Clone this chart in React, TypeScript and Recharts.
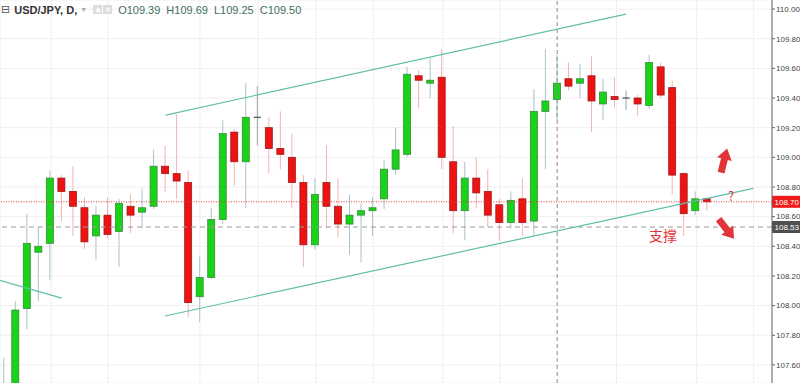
import {
  Bar,
  CartesianGrid,
  ComposedChart,
  ReferenceDot,
  ReferenceLine,
  XAxis,
  YAxis,
} from "recharts";

// daily candles, index 0 is the one cut off at the left edge
const opens = [
  107.3, 107.4, 107.98, 108.36, 108.42, 108.86, 108.77, 108.66, 108.47, 108.61,
  108.5, 108.67, 108.63, 108.67, 108.94, 108.89, 108.83, 108.06, 108.19, 108.58,
  109.17, 108.97, 109.27, 109.2, 109.06, 109.0, 108.83, 108.41, 108.83, 108.67,
  108.55, 108.61, 108.64, 108.72, 108.92, 109.02, 109.55, 109.5, 109.54, 108.97,
  108.64, 108.86, 108.77, 108.68, 108.56, 108.72, 108.57, 109.31, 109.39, 109.53,
  109.5, 109.55, 109.36, 109.41, 109.4, 109.4, 109.35, 109.61, 109.47, 108.89,
  108.64, 108.72,
];
const highs = [
  107.65, 108.03, 108.62, 108.53, 108.91, 108.88, 108.94, 108.73, 108.67, 108.73,
  108.72, 108.75, 108.79, 109.05, 109.08, 109.29, 108.91, 108.33, 108.66, 109.25,
  109.19, 109.5, 109.48, 109.27, 109.31, 109.16, 108.88, 108.86, 109.08, 108.86,
  108.75, 108.69, 108.73, 108.98, 109.2, 109.61, 109.59, 109.67, 109.73, 109.21,
  108.97, 109.0, 108.92, 108.72, 108.77, 108.86, 109.46, 109.73, 109.69, 109.64,
  109.63, 109.68, 109.53, 109.54, 109.45, 109.42, 109.69, 109.64, 109.52, 108.9,
  108.77, 108.73,
];
const lows = [
  107.1, 107.3, 107.84, 108.03, 108.17, 108.57, 108.47, 108.38, 108.31, 108.45,
  108.26, 108.49, 108.52, 108.65, 108.77, 108.72, 107.92, 107.89, 108.18, 108.55,
  108.81, 108.66, 109.08, 108.89, 108.92, 108.66, 108.26, 108.38, 108.52, 108.46,
  108.34, 108.29, 108.47, 108.65, 108.88, 109.0, 109.33, 109.4, 108.92, 108.49,
  108.44, 108.66, 108.53, 108.44, 108.52, 108.47, 108.47, 108.92, 109.25, 109.45,
  109.4, 109.17, 109.25, 109.33, 109.32, 109.28, 109.33, 109.4, 108.75, 108.47,
  108.61, 108.64,
];
const closes = [
  107.42, 107.97, 108.42, 108.4, 108.86, 108.77, 108.67, 108.43, 108.61, 108.48,
  108.69, 108.61, 108.66, 108.94, 108.89, 108.84, 108.02, 108.19, 108.58, 109.16,
  108.97, 109.27, 109.27, 109.06, 109.02, 108.83, 108.41, 108.75, 108.67, 108.55,
  108.61, 108.64, 108.66, 108.92, 109.05, 109.56, 109.52, 109.52, 109.0, 108.64,
  108.86, 108.76, 108.61, 108.56, 108.71, 108.56, 109.31, 109.38, 109.5, 109.48,
  109.53, 109.38, 109.44, 109.39, 109.4, 109.36, 109.64, 109.42, 108.88, 108.62,
  108.72, 108.7,
];

const priceTicks = [
  107.6, 107.8, 108.0, 108.2, 108.4, 108.6, 108.8, 109.0, 109.2, 109.4, 109.6,
  109.8, 110.0,
];
// vertical grid lines (session boundaries), in candle index units
const dayGrid = [4.1, 9.05, 17, 22.05, 27.05, 32.05, 38.1, 43.05, 53.15, 60.1, 65.05];

const lastPrice = 108.7;
const supportPrice = 108.53;
const hoveredDay = 48;

// hand-drawn trend lines: [index, price] endpoints
const channelTop: [number, number][] = [[14.03, 109.285], [53.97, 109.966]];
const channelBottom: [number, number][] = [[13.97, 107.93], [65.02, 108.79]];
const oldTrend: [number, number][] = [[-1, 108.185], [5.0, 108.05]];

const upArrowAt: [number, number] = [62.47, 108.975];
const downArrowAt: [number, number] = [62.65, 108.52];
const questionAt: [number, number] = [63.08, 108.745];
const supportLabelAt: [number, number] = [57.18, 108.476];

const candles = opens.map((open, i) => ({
  idx: i,
  open,
  high: highs[i],
  low: lows[i],
  close: closes[i],
  range: [lows[i], highs[i]],
}));

const UP = "#18d318";
const UP_EDGE = "#3a8a3a";
const DOWN = "#ef1212";
const DOWN_EDGE = "#9a1b1b";
const TEAL = "#5fbfa7";
const RED_MARK = "#e2353a";

function Candle(props: any) {
  const { x, y, width, height, payload } = props;
  const { open, close, high, low } = payload;
  const cx = x + width / 2;
  const unit = high > low ? height / (high - low) : 0;
  const top = y + (high - Math.max(open, close)) * unit;
  const bottom = y + (high - Math.min(open, close)) * unit;
  const flat = Math.abs(close - open) < 0.005;
  const up = close > open;
  const wick = flat ? "#9aa4a8" : up ? "#a9c4cc" : "#f2b3b3";
  return (
    <g>
      <line x1={cx} x2={cx} y1={y} y2={y + height} stroke={wick} strokeWidth={1} />
      {flat ? (
        <line x1={cx - 3.5} x2={cx + 3.5} y1={top} y2={top} stroke="#4a4a4a" strokeWidth={1.2} />
      ) : (
        <rect
          x={cx - 3.5}
          y={top}
          width={7}
          height={Math.max(bottom - top, 1)}
          fill={up ? UP : DOWN}
          stroke={up ? UP_EDGE : DOWN_EDGE}
          strokeWidth={0.8}
        />
      )}
    </g>
  );
}

function PriceTag({ viewBox, value, fill }: any) {
  if (!viewBox) return null;
  const right = viewBox.x + viewBox.width;
  return (
    <g>
      <rect x={right} y={viewBox.y - 6} width={28} height={12} fill={fill} />
      <text
        x={right + 2.5}
        y={viewBox.y + 3}
        fontSize={8}
        fill="#fff"
        fontFamily="Liberation Sans, Arial, sans-serif"
      >
        {value.toFixed(2)}
      </text>
    </g>
  );
}

function Arrow({ cx, cy, angle }: any) {
  return (
    <polygon
      transform={`translate(${cx},${cy}) rotate(${angle})`}
      points="0,-13 -7.5,-2 -3.5,-2 -3.5,12 3.5,12 3.5,-2 7.5,-2"
      fill={RED_MARK}
    />
  );
}

function Note({ cx, cy, text, size }: any) {
  return (
    <text
      x={cx}
      y={cy}
      textAnchor="middle"
      dominantBaseline="central"
      fontSize={size}
      fill={RED_MARK}
      fontFamily="Noto Sans CJK SC, Noto Sans, sans-serif"
    >
      {text}
    </text>
  );
}

function Header() {
  const hov = hoveredDay;
  const val = { color: "#3f6f5f", marginRight: 6 };
  const icon = {
    background: "#dcdcdc",
    color: "#fff",
    width: 9,
    height: 9,
    fontSize: 7,
    textAlign: "center" as const,
    lineHeight: "9px",
  };
  return (
    <div
      style={{
        position: "absolute",
        left: 1,
        top: 3,
        fontFamily: "Liberation Sans, Arial, sans-serif",
        fontSize: 11,
        color: "#333",
        display: "flex",
        alignItems: "center",
        whiteSpace: "nowrap",
      }}
    >
      <span style={{ fontSize: 11, color: "#555", marginRight: 4, fontFamily: "DejaVu Sans" }}>⊟</span>
      <span style={{ fontWeight: 600, marginRight: 3 }}>USD/JPY, D,</span>
      <span style={{ color: "#aaa", fontSize: 7, marginRight: 6 }}>▼</span>
      <span style={{ ...icon, marginRight: 1 }}>◉</span>
      <span style={{ ...icon, marginRight: 6 }}>✲</span>
      <span style={val}>O{opens[hov].toFixed(2)}</span>
      <span style={val}>H{highs[hov].toFixed(2)}</span>
      <span style={val}>L{lows[hov].toFixed(2)}</span>
      <span style={val}>C{closes[hov].toFixed(2)}</span>
    </div>
  );
}

export default function App() {
  return (
    <div style={{ position: "absolute", left: 0, top: 0, width: 800, height: 383, background: "#fff" }}>
      <ComposedChart
        width={800}
        height={383}
        data={candles}
        margin={{ top: 0, right: 0, bottom: 0, left: 0 }}
      >
        <CartesianGrid stroke="#efefef" />
        <XAxis
          type="number"
          dataKey="idx"
          domain={[-0.35, 66.64]}
          allowDataOverflow
          ticks={dayGrid}
          hide
        />
        <YAxis
          orientation="right"
          type="number"
          domain={[107.478, 110.061]}
          allowDataOverflow
          ticks={priceTicks}
          tickFormatter={(v: number) => v.toFixed(2)}
          width={28}
          tickSize={3}
          tickMargin={1}
          axisLine={{ stroke: "#666" }}
          tickLine={{ stroke: "#666" }}
          tick={{ fontSize: 8, fill: "#444", fontFamily: "Liberation Sans, Arial, sans-serif", textAnchor: "start" }}
        />
        <ReferenceLine x={hoveredDay} stroke="#8a8a8a" strokeDasharray="4 3" />
        <ReferenceLine
          y={supportPrice}
          stroke="#9a9a9a"
          strokeDasharray="5 4"
          label={(p: any) => <PriceTag {...p} value={supportPrice} fill="#4f4f4f" />}
        />
        <ReferenceLine
          y={lastPrice}
          stroke="#e53935"
          strokeDasharray="1 1.5"
          label={(p: any) => <PriceTag {...p} value={lastPrice} fill="#f01a1a" />}
        />
        <Bar
          dataKey="range"
          barSize={7}
          shape={Candle}
          isAnimationActive={false}
        />
        <ReferenceLine
          segment={channelTop.map(([x, y]) => ({ x, y }))}
          stroke={TEAL}
          strokeWidth={1.2}
          ifOverflow="visible"
        />
        <ReferenceLine
          segment={channelBottom.map(([x, y]) => ({ x, y }))}
          stroke={TEAL}
          strokeWidth={1.2}
          ifOverflow="visible"
        />
        <ReferenceLine
          segment={oldTrend.map(([x, y]) => ({ x, y }))}
          stroke={TEAL}
          strokeWidth={1.2}
          ifOverflow="hidden"
        />
        <ReferenceDot
          x={upArrowAt[0]}
          y={upArrowAt[1]}
          r={0}
          shape={(p: any) => <Arrow cx={p.cx} cy={p.cy} angle={14} />}
        />
        <ReferenceDot
          x={downArrowAt[0]}
          y={downArrowAt[1]}
          r={0}
          shape={(p: any) => <Arrow cx={p.cx} cy={p.cy} angle={142} />}
        />
        <ReferenceDot
          x={questionAt[0]}
          y={questionAt[1]}
          r={0}
          shape={(p: any) => <Note cx={p.cx} cy={p.cy} text="?" size={13} />}
        />
        <ReferenceDot
          x={supportLabelAt[0]}
          y={supportLabelAt[1]}
          r={0}
          shape={(p: any) => <Note cx={p.cx} cy={p.cy} text="支撑" size={14} />}
        />
      </ComposedChart>
      <Header />
    </div>
  );
}
